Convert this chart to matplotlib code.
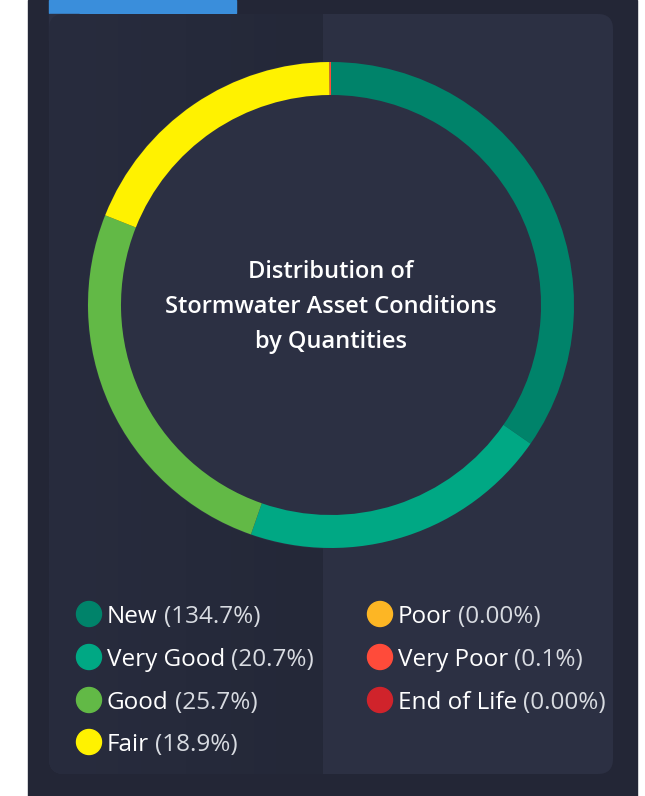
import matplotlib.pyplot as plt
from matplotlib.patches import Rectangle, FancyBboxPatch, Circle
from matplotlib.colors import LinearSegmentedColormap
import numpy as np

W, H = 645, 796

# chart data
categories = ["New", "Very Good", "Good", "Fair", "Poor", "Very Poor", "End of Life"]
shares = [34.7, 20.7, 25.7, 18.9, 0.0, 0.1, 0.0]
legend_pct = ["134.7%", "20.7%", "25.7%", "18.9%", "0.00%", "0.1%", "0.00%"]
colors = ["#00836A", "#00A884", "#62B946", "#FFF200", "#FDB624", "#FF4B3A", "#D0232B"]

title = "Distribution of\nStormwater Asset Conditions\nby Quantities"

plt.rcParams['font.family'] = ['Open Sans', 'DejaVu Sans']

fig = plt.figure(figsize=(W / 100, H / 100), dpi=100)
fig.patch.set_facecolor("white")
ax = fig.add_axes([0, 0, 1, 1])


def Y(y):
    return H - y


# outer panel and card
ax.add_patch(Rectangle((28, 0), 609, H, color="#232636", zorder=0))
ax.add_patch(Rectangle((49, Y(13)), 187, 13, color="#3A8EDB", zorder=1))
card = FancyBboxPatch((49, Y(774)), 564, 760, boxstyle="round,pad=0,rounding_size=15",
                      fc="#2C3043", ec="none", zorder=1)
ax.add_patch(card)
ax.add_patch(Rectangle((49, Y(40)), 30, 26, color="#2C3043", zorder=1))

# darker left half with a soft gradient
grad = np.linspace(0, 1, 200).reshape(1, -1)
cmap = LinearSegmentedColormap.from_list("g", ["#282C3E", "#242838"])
im = ax.imshow(grad, extent=(49, 323, Y(774), Y(14)), cmap=cmap, aspect="auto", zorder=2)
im.set_clip_path(card)

# donut
cx, cy, r_out, ring = 331, 305, 243, 33
ax.add_patch(Circle((cx, Y(cy)), r_out, color="#2C3043", zorder=3))
ax.pie(shares, colors=colors, center=(cx, Y(cy)), radius=r_out, startangle=90,
       counterclock=False, frame=True,
       wedgeprops=dict(width=ring, edgecolor="none", zorder=4))
ax.set_xlim(0, W)
ax.set_ylim(0, H)
ax.axis("off")

ax.text(cx, Y(307), title, ha="center", va="center", color="white", fontsize=17,
        fontweight="semibold", linespacing=1.62, zorder=5)

# legend
rows = [614, 657, 700, 742]
cols = [89, 380]
fig.canvas.draw()
renderer = fig.canvas.get_renderer()
for i, (name, pct, c) in enumerate(zip(categories, legend_pct, colors)):
    col = 0 if i < 4 else 1
    row = i if i < 4 else i - 4
    x0, y0 = cols[col], rows[row]
    ax.add_patch(Circle((x0, Y(y0)), 12.5, color=c, zorder=5))
    t1 = ax.text(x0 + 18, Y(y0 + 9), name, color="white", fontsize=17.5,
                 fontweight="medium", va="baseline", ha="left", zorder=5)
    bb = t1.get_window_extent(renderer)
    ax.text(bb.x1 + 6, Y(y0 + 9), "(" + pct + ")", color="#D8DBE1", fontsize=17.5,
            fontweight="normal", va="baseline", ha="left", zorder=5)

fig.savefig("out.png", dpi=100, facecolor=fig.get_facecolor())
